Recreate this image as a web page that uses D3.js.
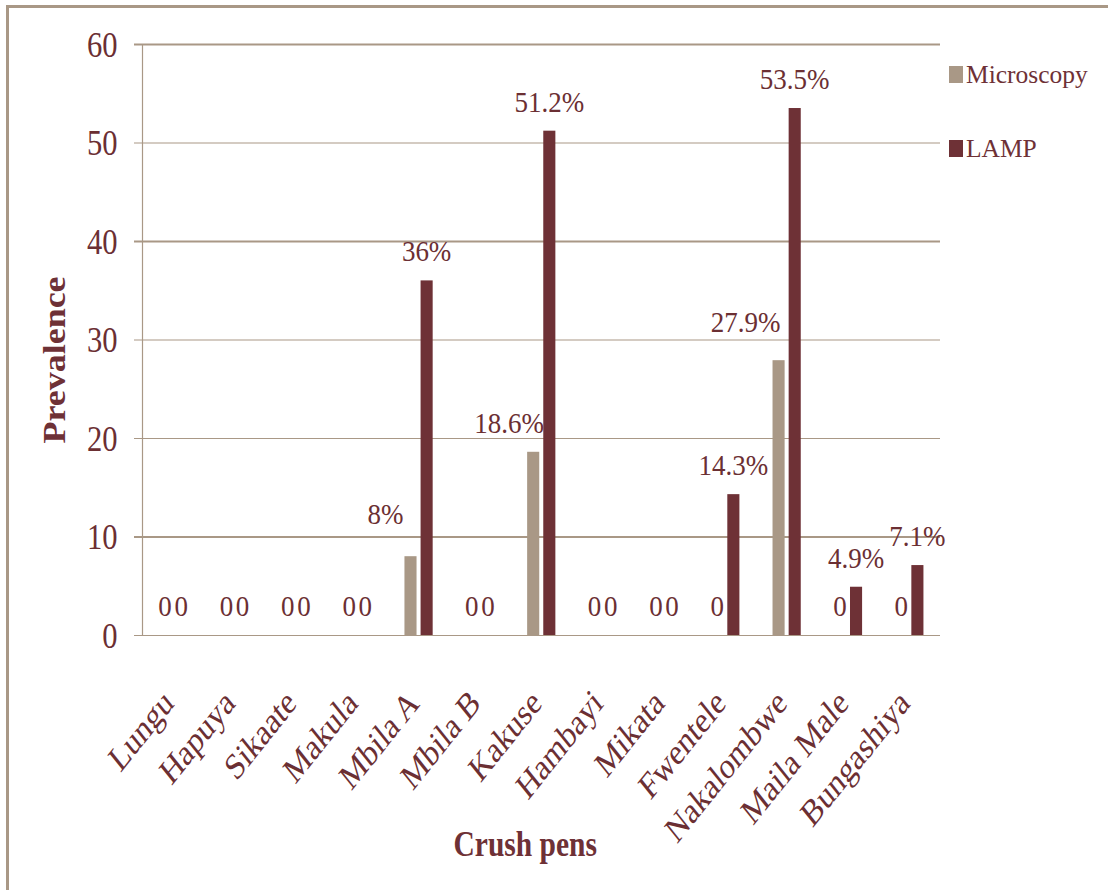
<!DOCTYPE html>
<html>
<head>
<meta charset="utf-8">
<script src="https://cdn.jsdelivr.net/npm/d3@7"></script>
<style>
  html, body { margin: 0; padding: 0; background: #ffffff; }
  svg { display: block; }
  svg text { font-family: "Liberation Serif", "Times New Roman", serif; }
</style>
</head>
<body>
<svg id="chart" width="1108" height="890" font-family="Liberation Serif, serif"></svg>
<script>
// ---- data ----
const categories = ["Lungu","Hapuya","Sikaate","Makula","Mbila A","Mbila B","Kakuse","Hambayi","Mikata","Fwentele","Nakalombwe","Maila Male","Bungashiya"];
const seriesNames = ["Microscopy","LAMP"];
const microscopy = [0,0,0,0,8,0,18.6,0,0,0,27.9,0,0];
const lamp = [0,0,0,0,36,0,51.2,0,0,14.3,53.5,4.9,7.1];
const yTicks = [0,10,20,30,40,50,60];
const yTitle = "Prevalence";
const xTitle = "Crush pens";

// ---- layout / style ----
const tan = "#a99886";
const maroon = "#6e3136";
const textCol = "#6b2f33";
const colors = { "Microscopy": tan, "LAMP": maroon };
const plot = { left: 142.5, right: 940, top: 44, bottom: 635 };
const sx = 0.85; // horizontal glyph compression seen in the reference
// manual nudges for a few value labels (dx, dy) as placed in the reference
const labelNudge = {
  "Mbila A|Microscopy": [-25, -13],
  "Kakuse|Microscopy": [-24, 0],
  "Nakalombwe|Microscopy": [-33, -9]
};
const thickGrid = [10, 40, 60];
const serif = "'Liberation Serif', 'Times New Roman', serif";

const svg = d3.select("#chart");

// outer frame (right and bottom edges fall outside the picture)
svg.append("rect")
  .attr("x", 7.5).attr("y", 6.5)
  .attr("width", 1130).attr("height", 920)
  .attr("fill", "none").attr("stroke", tan).attr("stroke-width", 3);

const x0 = d3.scaleBand().domain(categories)
  .range([plot.left, plot.right]).paddingInner(0.54).paddingOuter(0.27);
const x1 = d3.scaleBand().domain(seriesNames)
  .range([0, x0.bandwidth()]).paddingInner(0.25);
const y = d3.scaleLinear().domain([0, 60]).range([plot.bottom, plot.top]);

// y axis with gridlines
const yAxis = d3.axisLeft(y).tickValues(yTicks).tickSize(0).tickPadding(0);
const gy = svg.append("g").attr("transform", `translate(${plot.left},0)`).call(yAxis)
  .attr("font-family", serif);
gy.select(".domain").remove();
gy.selectAll(".tick line")
  .attr("x1", -8.5).attr("x2", plot.right - plot.left)
  .attr("stroke", tan)
  .attr("stroke-width", d => thickGrid.includes(d) ? 2 : 1.2);
gy.selectAll(".tick text")
  .attr("x", null).attr("dy", "0.34em")
  .attr("transform", `translate(-25,0) scale(${sx},1)`)
  .attr("fill", textCol)
  .style("font-size", "36px")
  .style("font-family", serif);

// y axis line
svg.append("line")
  .attr("x1", plot.left).attr("x2", plot.left)
  .attr("y1", plot.top).attr("y2", plot.bottom)
  .attr("stroke", tan).attr("stroke-width", 1.2);

// bars
const rows = categories.map((c, i) => ({
  cat: c,
  vals: [{ s: "Microscopy", v: microscopy[i] }, { s: "LAMP", v: lamp[i] }]
}));

const groups = svg.append("g").selectAll("g")
  .data(rows).join("g")
  .attr("transform", d => `translate(${x0(d.cat)},0)`);

groups.selectAll("rect")
  .data(d => d.vals)
  .join("rect")
  .attr("x", d => x1(d.s))
  .attr("width", x1.bandwidth())
  .attr("y", d => y(d.v))
  .attr("height", d => y(0) - y(d.v))
  .attr("fill", d => colors[d.s]);

// value labels
groups.each(function (row) {
  d3.select(this).selectAll("text.val")
    .data(row.vals)
    .join("text")
    .attr("class", "val")
    .attr("text-anchor", "middle")
    .attr("fill", textCol)
    .style("font-size", "30px")
    .style("font-family", serif)
    .attr("transform", d => {
      const n = labelNudge[row.cat + "|" + d.s] || [0, 0];
      const cx = x1(d.s) + x1.bandwidth() / 2 + n[0];
      const cy = y(d.v) - 19 + n[1];
      return `translate(${cx},${cy}) scale(0.9,1)`;
    })
    .text(d => d.v === 0 ? "0" : d.v + "%");
});

// x category labels (rotated)
svg.append("g").selectAll("text")
  .data(categories).join("text")
  .attr("text-anchor", "end")
  .attr("fill", textCol)
  .style("font-size", "37px")
  .style("font-family", serif)
  .attr("transform", d => `translate(${x0(d) + x0.bandwidth() / 2 + 2},${plot.bottom + 70}) scale(0.8,1) rotate(-45)`)
  .text(d => d);

// axis titles
svg.append("text")
  .attr("text-anchor", "middle")
  .attr("fill", maroon)
  .style("font-size", "36px").style("font-weight", "bold")
  .style("font-family", serif)
  .attr("transform", `translate(${(plot.left + plot.right) / 2 - 16},856) scale(0.82,1)`)
  .text(xTitle);

svg.append("text")
  .attr("text-anchor", "middle")
  .attr("fill", maroon)
  .style("font-size", "36px").style("font-weight", "bold")
  .style("font-family", serif)
  .attr("transform", `translate(65,360) scale(${sx},1) rotate(-90)`)
  .text(yTitle);

// legend
const legend = svg.append("g").selectAll("g")
  .data(seriesNames).join("g")
  .attr("transform", (d, i) => `translate(949,${66 + i * 74})`);
legend.append("rect")
  .attr("x", 0).attr("y", 0).attr("width", 14).attr("height", 17)
  .attr("fill", d => colors[d]);
legend.append("text")
  .attr("fill", maroon)
  .style("font-size", "26px")
  .style("font-family", serif)
  .attr("transform", `translate(17,17) scale(0.98,1)`)
  .text(d => d);
</script>
</body>
</html>
